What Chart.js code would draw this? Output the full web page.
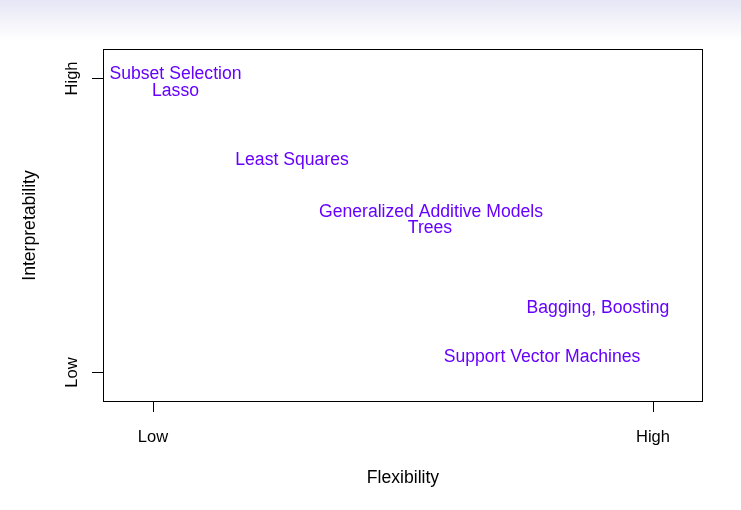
<!DOCTYPE html>
<html>
<head>
<meta charset="utf-8">
<script src="https://cdn.jsdelivr.net/npm/chart.js@4/dist/chart.umd.min.js"></script>
<style>
  html, body { margin: 0; padding: 0; }
  body { width: 741px; height: 510px; background: linear-gradient(to bottom, #e6e6f5 0px, #f4f4fa 22px, #ffffff 40px, #ffffff 510px); }
  #wrap { width: 741px; height: 510px; }
</style>
</head>
<body>
<div id="wrap"><canvas id="c" width="741" height="510"></canvas></div>
<script>
// ---- data ----
const methods = ["Subset Selection", "Lasso", "Least Squares", "Generalized Additive Models", "Trees", "Bagging, Boosting", "Support Vector Machines"];
const flexibility = [0.45, 0.45, 2.78, 5.56, 5.54, 8.9, 7.78];
const interpretability = [10.13, 9.58, 7.23, 5.46, 4.91, 2.18, 0.51];
const xTickValues = [0, 10];
const xTickLabels = ["Low", "High"];
const yTickValues = [0, 10];
const yTickLabels = ["Low", "High"];
const xTitle = "Flexibility";
const yTitle = "Interpretability";

const FONT = "'Liberation Sans', Arial, Helvetica, sans-serif";
const LABEL_COLOR = "#6600ff";

const points = flexibility.map((x, i) => ({ x: x, y: interpretability[i] }));

const labelPlugin = {
  id: 'methodLabels',
  afterDatasetsDraw(chart) {
    const ctx = chart.ctx;
    const xs = chart.scales.x, ys = chart.scales.y;
    ctx.save();
    ctx.font = "17.6px " + FONT;
    ctx.fillStyle = LABEL_COLOR;
    ctx.textAlign = 'center';
    ctx.textBaseline = 'middle';
    methods.forEach((m, i) => {
      ctx.fillText(m, xs.getPixelForValue(flexibility[i]), ys.getPixelForValue(interpretability[i]));
    });
    ctx.restore();
  }
};

const framePlugin = {
  id: 'frame',
  afterDraw(chart) {
    const a = chart.chartArea;
    const ctx = chart.ctx;
    ctx.save();
    ctx.strokeStyle = '#000';
    ctx.lineWidth = 1;
    ctx.strokeRect(Math.round(a.left) + 0.5, Math.round(a.top) + 0.5, Math.round(a.right - a.left) - 1, Math.round(a.bottom - a.top) - 1);
    ctx.restore();
  }
};

new Chart(document.getElementById('c'), {
  type: 'scatter',
  data: {
    datasets: [{ data: points, pointRadius: 0, pointHoverRadius: 0, showLine: false }]
  },
  options: {
    responsive: false,
    animation: false,
    layout: { padding: { top: 49, right: 38, left: 0, bottom: 0 } },
    plugins: { legend: { display: false }, tooltip: { enabled: false } },
    scales: {
      x: {
        type: 'linear', min: -1, max: 11,
        afterBuildTicks(scale) { scale.ticks = xTickValues.map(v => ({ value: v })); },
        afterFit(scale) { scale.height = 108; },
        ticks: {
          color: '#000', padding: 16, maxRotation: 0, minRotation: 0,
          font: { family: FONT, size: 16.5 },
          callback(v) { const i = xTickValues.indexOf(v); return i >= 0 ? xTickLabels[i] : ''; }
        },
        grid: { display: true, drawOnChartArea: false, drawTicks: true, tickLength: 10, color: '#000', lineWidth: 1 },
        border: { display: false },
        title: { display: true, text: xTitle, color: '#000', font: { family: FONT, size: 17.6 }, padding: { top: 0, bottom: 21 } }
      },
      y: {
        type: 'linear', min: -1, max: 11,
        afterBuildTicks(scale) { scale.ticks = yTickValues.map(v => ({ value: v })); },
        afterFit(scale) { scale.width = 103; },
        ticks: {
          color: '#000', padding: 3, minRotation: 90, maxRotation: 90, crossAlign: 'center',
          font: { family: FONT, size: 16.5 },
          callback(v) { const i = yTickValues.indexOf(v); return i >= 0 ? yTickLabels[i] : ''; }
        },
        grid: { display: true, drawOnChartArea: false, drawTicks: true, tickLength: 11, color: '#000', lineWidth: 1 },
        border: { display: false },
        title: { display: true, text: yTitle, color: '#000', font: { family: FONT, size: 17.6 }, padding: { top: 19.5, bottom: 0 } }
      }
    }
  },
  plugins: [labelPlugin, framePlugin]
});
</script>
</body>
</html>
